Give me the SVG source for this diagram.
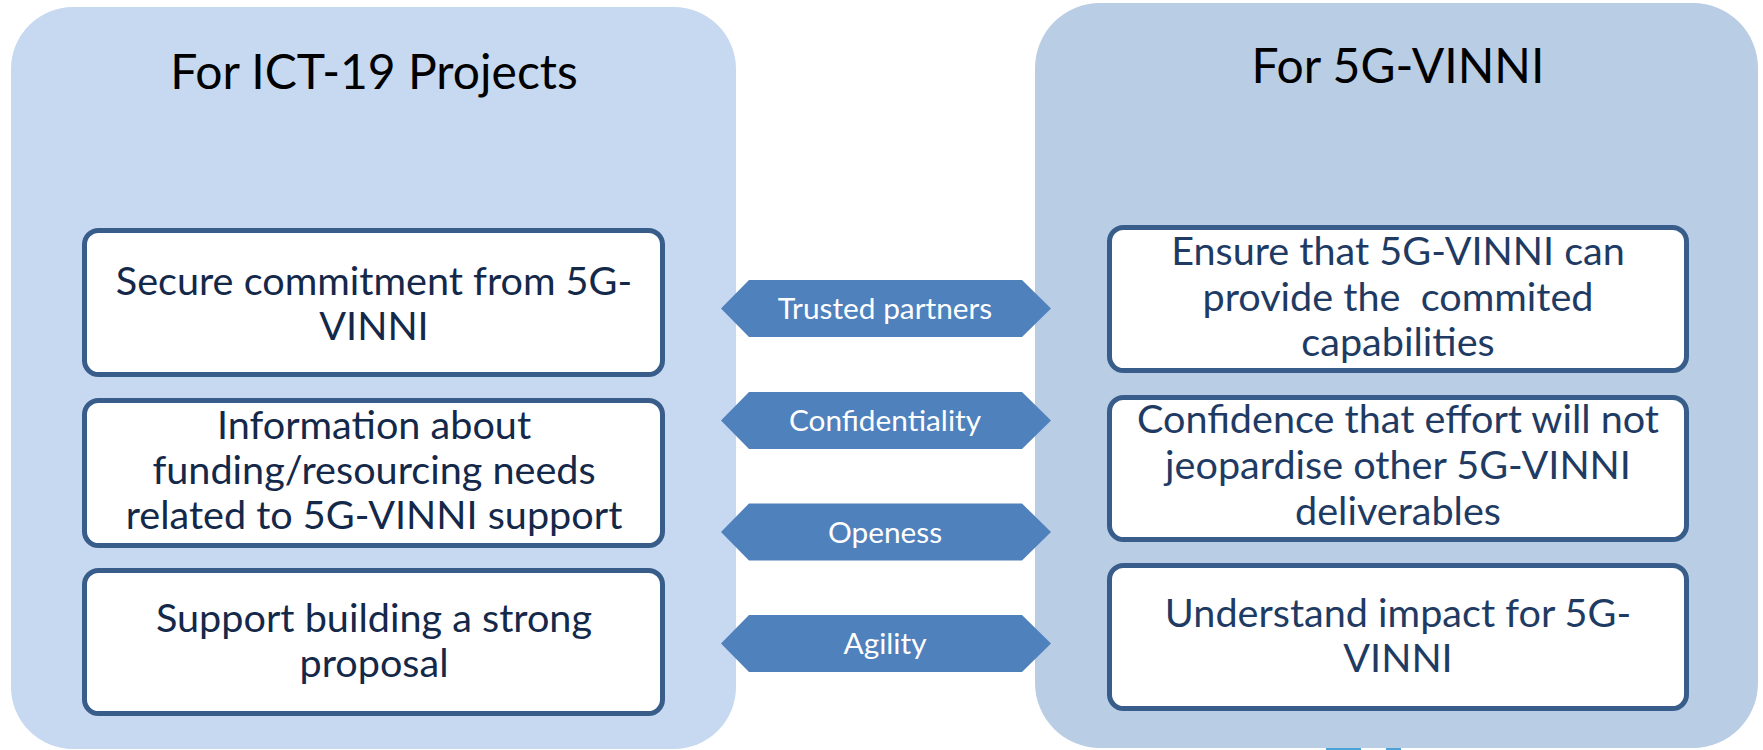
<svg xmlns="http://www.w3.org/2000/svg" width="1763" height="750" viewBox="0 0 1763 750">
<style>
.title{font-family:Lato,"Open Sans","Liberation Sans",sans-serif;font-size:48px;fill:#000;text-anchor:middle}
.box{fill:#fff;stroke:#385D8A;stroke-width:5}
.ltxt{font-family:Lato,"Open Sans","Liberation Sans",sans-serif;font-size:39.6px;fill:#14284A;text-anchor:middle}
.rtxt{font-family:Lato,"Open Sans","Liberation Sans",sans-serif;font-size:39.6px;fill:#1F3B63;text-anchor:middle}
.arrow{fill:#4F81BD}
.atxt{font-family:Lato,"Open Sans","Liberation Sans",sans-serif;font-size:29.8px;fill:#fff;text-anchor:middle}
</style>
<rect width="1763" height="750" fill="#fff"/>
<g id="panel-left">
<rect x="11" y="7" width="725" height="742" rx="62" ry="62" fill="#C6D9F1"/>
<text class="title" x="374" y="89">For ICT-19 Projects</text>
</g>
<g id="panel-right">
<rect x="1035" y="3" width="723" height="745" rx="65" ry="65" fill="#B9CDE5"/>
<text class="title" x="1398" y="83">For 5G-VINNI</text>
</g>
<rect x="1326" y="748" width="35" height="2" fill="#4BA3D8"/>
<rect x="1386" y="748" width="15" height="2" fill="#4BA3D8"/>
<g id="left-1">
<rect class="box" x="84.5" y="230.5" width="578" height="144" rx="14"/>
<text class="ltxt" x="374" y="295">Secure commitment from 5G-</text>
<text class="ltxt" x="374" y="340">VINNI</text>
</g>
<g id="left-2">
<rect class="box" x="84.5" y="400.5" width="578" height="145" rx="14"/>
<text class="ltxt" x="374" y="439">Information about</text>
<text class="ltxt" x="374" y="484">funding/resourcing needs</text>
<text class="ltxt" x="374" y="529">related to 5G-VINNI support</text>
</g>
<g id="left-3">
<rect class="box" x="84.5" y="570.5" width="578" height="143" rx="14"/>
<text class="ltxt" x="374" y="632">Support building a strong</text>
<text class="ltxt" x="374" y="677">proposal</text>
</g>
<g id="right-1">
<rect class="box" x="1109.5" y="227.5" width="577" height="143" rx="14"/>
<text class="rtxt" x="1398" y="265">Ensure that 5G-VINNI can</text>
<text class="rtxt" x="1398" y="311" xml:space="preserve">provide the  commited</text>
<text class="rtxt" x="1398" y="356">capabilities</text>
</g>
<g id="right-2">
<rect class="box" x="1109.5" y="397.5" width="577" height="142" rx="14"/>
<text class="rtxt" x="1398" y="433">Confidence that effort will not</text>
<text class="rtxt" x="1398" y="479">jeopardise other 5G-VINNI</text>
<text class="rtxt" x="1398" y="525">deliverables</text>
</g>
<g id="right-3">
<rect class="box" x="1109.5" y="565.5" width="577" height="143" rx="14"/>
<text class="rtxt" x="1398" y="627">Understand impact for 5G-</text>
<text class="rtxt" x="1398" y="672">VINNI</text>
</g>
<g id="connectors">
<g id="arrow-trusted">
<polygon class="arrow" points="721,308.5 749,280 1022,280 1051,308.5 1022,337 749,337"/>
<text class="atxt" x="885" y="319">Trusted partners</text>
</g>
<g id="arrow-confidentiality">
<polygon class="arrow" points="721,420.5 749,392 1022,392 1051,420.5 1022,449 749,449"/>
<text class="atxt" x="885" y="431">Confidentiality</text>
</g>
<g id="arrow-openess">
<polygon class="arrow" points="721,532 749,503.5 1022,503.5 1051,532 1022,560.5 749,560.5"/>
<text class="atxt" x="885" y="542.5">Openess</text>
</g>
<g id="arrow-agility">
<polygon class="arrow" points="721,643.5 749,615 1022,615 1051,643.5 1022,672 749,672"/>
<text class="atxt" x="885" y="654">Agility</text>
</g>
</g>
</svg>
